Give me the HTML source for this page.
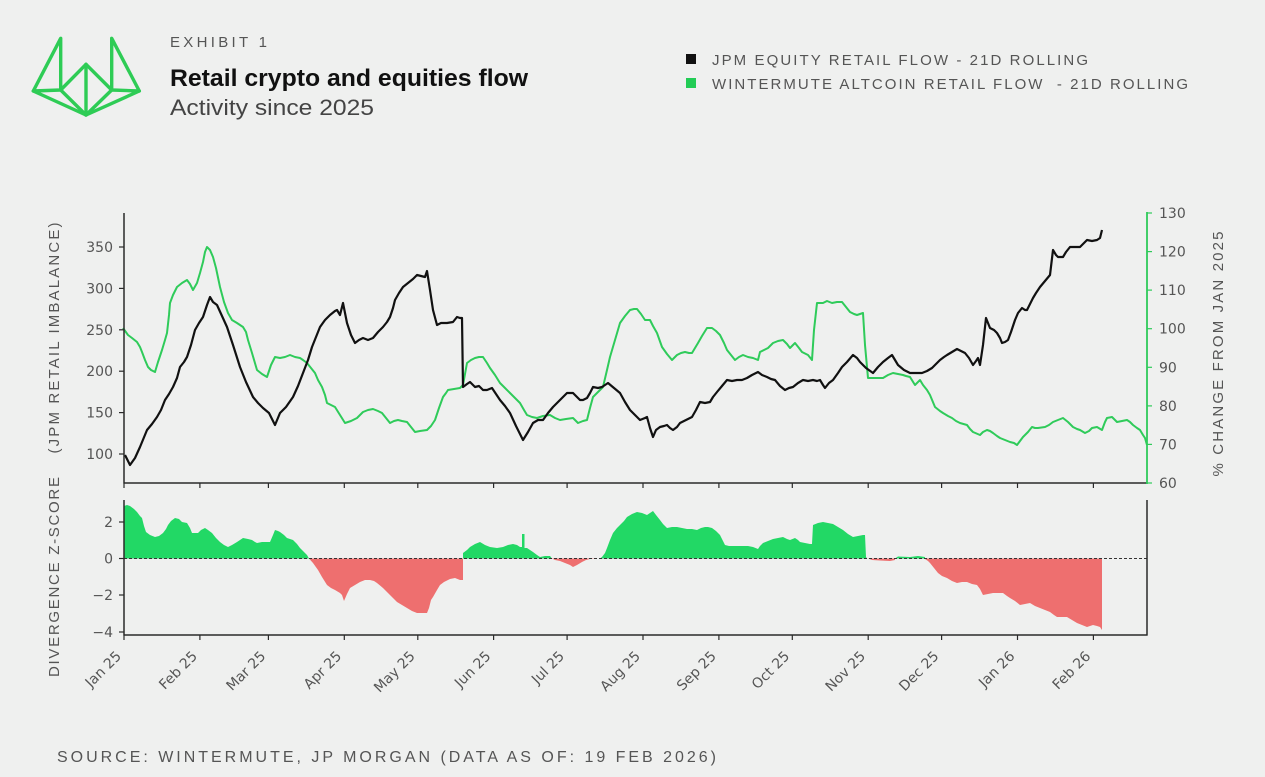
<!DOCTYPE html>
<html>
<head>
<meta charset="utf-8">
<style>
  html,body{margin:0;padding:0;background:#eff0ef;}
  svg{display:block;}
  .tick{font-family:"DejaVu Sans","Liberation Sans",sans-serif;font-size:14px;fill:#555;}
  .cap{font-family:"Liberation Sans",sans-serif;fill:#555;}
</style>
</head>
<body>
<svg width="1265" height="777" viewBox="0 0 1265 777" xmlns="http://www.w3.org/2000/svg">
  <rect x="0" y="0" width="1265" height="777" fill="#eff0ef"/>

  <!-- Logo -->
  <g fill="none" stroke="#2ecc55" stroke-width="3.4" stroke-linejoin="round" stroke-linecap="round">
    <polygon points="60.7,38.3 33.3,91 60.7,90"/>
    <polygon points="111.7,38.3 139.3,91 111.7,90"/>
    <polyline points="33.3,91 86,115 139.3,91"/>
    <polygon points="86,64.3 60.7,90 86,115 111.7,90"/>
    <line x1="86" y1="64.3" x2="86" y2="115"/>
  </g>

  <!-- Header text -->
  <text x="170" y="47" class="cap" font-size="15" textLength="97" lengthAdjust="spacing" fill="#555">EXHIBIT 1</text>
  <text x="170" y="86" font-family="Liberation Sans, sans-serif" font-size="24" font-weight="bold" fill="#111" textLength="358" lengthAdjust="spacingAndGlyphs">Retail crypto and equities flow</text>
  <text x="170" y="115" font-family="Liberation Sans, sans-serif" font-size="22" fill="#444" textLength="204" lengthAdjust="spacingAndGlyphs">Activity since 2025</text>

  <!-- Legend -->
  <rect x="686" y="54" width="10" height="10" fill="#111"/>
  <text x="712" y="65" class="cap" font-size="15" fill="#3c3c3c" textLength="376" lengthAdjust="spacing">JPM EQUITY RETAIL FLOW - 21D ROLLING</text>
  <rect x="686" y="78" width="10" height="10" fill="#22cc55"/>
  <text x="712" y="89" class="cap" font-size="15" fill="#3c3c3c" textLength="476" lengthAdjust="spacing" style="white-space:pre">WINTERMUTE ALTCOIN RETAIL FLOW  - 21D ROLLING</text>

  <!-- ===== Top chart ===== -->
  <polyline fill="none" stroke="#2fcb5a" stroke-width="2" stroke-linejoin="round" points="123,328 128,335 132,338 137,342 140,347 142,352 145,360 148,367 151,370 155,372 158,362 162,350 165,340 167,333 169,315 170,303 173,295 177,287 182,283 187,280 190,284 193,290 197,283 200,273 203,262 205,252 207,247 210,250 213,257 216,268 220,287 224,302 228,313 232,320 237,323 240,325 243,327 246,332 248,340 252,353 257,370 262,374 267,377 271,365 275,357 280,358 285,357 290,355 295,357 300,358 303,360 307,363 311,368 315,373 318,380 322,387 325,395 327,403 331,405 335,407 340,415 345,423 351,421 357,418 360,415 363,412 368,410 373,409 378,411 382,413 386,418 390,423 394,421 398,420 402,421 407,422 411,427 415,432 420,431 427,430 431,426 435,420 439,408 443,397 446,393 448,390 454,389 460,388 463,385 467,363 471,360 475,358 479,357 483,357 487,363 490,368 495,375 500,383 505,388 510,393 515,398 520,403 524,410 527,415 532,417 537,418 543,416 550,415 555,418 560,420 566,419 573,418 578,423 583,421 587,420 590,408 593,397 598,392 603,387 607,370 610,357 615,340 620,323 625,316 630,310 634,309 637,309 641,314 645,320 650,320 653,326 657,333 662,347 667,354 672,360 677,355 681,353 685,352 689,353 692,353 695,348 698,343 702,336 707,328 712,328 716,331 720,335 724,343 727,350 731,355 735,360 739,357 743,355 748,357 753,358 758,360 760,352 764,350 768,348 773,343 778,341 783,340 787,344 790,348 795,343 799,348 802,352 808,355 812,360 814,330 817,303 823,303 827,301 832,303 837,302 842,302 846,307 850,312 854,314 857,315 863,313 865,345 868,378 875,378 883,378 888,375 893,373 898,374 903,375 906,376 910,377 915,385 920,380 923,385 927,390 930,395 935,407 940,411 943,413 948,416 952,418 956,421 960,423 967,425 970,429 973,432 980,435 983,432 987,430 990,431 993,433 997,436 1000,438 1005,440 1010,442 1014,443 1017,445 1020,441 1023,437 1028,432 1032,427 1035,428 1038,428 1045,427 1049,425 1053,422 1058,420 1063,418 1068,422 1073,427 1077,429 1080,430 1085,433 1089,431 1092,428 1097,427 1102,430 1105,422 1107,418 1112,417 1117,422 1122,421 1127,420 1130,422 1133,425 1137,428 1140,430 1143,435 1145,438 1147,445"/>
  <polyline fill="none" stroke="#111" stroke-width="2.2" stroke-linejoin="round" points="125,455 130,465 135,458 140,447 147,430 152,424 157,417 161,410 165,400 169,394 173,387 177,378 180,367 184,362 187,357 191,345 195,330 199,323 203,317 207,305 210,297 213,302 217,305 222,316 227,327 233,345 240,367 246,382 253,397 258,403 263,408 269,413 275,425 280,413 286,407 293,397 298,386 303,373 308,360 312,347 316,337 320,327 325,320 330,315 335,311 337,310 340,315 343,303 347,323 351,335 355,343 359,340 363,338 368,340 373,338 378,332 383,327 387,322 390,317 393,308 395,300 399,293 403,287 408,283 413,279 417,275 421,276 425,277 427,271 430,290 433,310 437,325 441,323 447,323 453,322 457,317 460,318 462,318 463,387 467,384 470,382 475,387 479,386 483,390 487,390 492,388 496,394 500,400 505,406 510,413 516,426 523,440 528,432 533,423 538,420 543,420 548,413 553,407 557,403 560,400 563,397 567,393 573,393 577,397 580,400 583,400 587,398 590,393 593,387 598,388 602,387 605,385 608,383 614,388 620,393 625,402 630,410 635,415 640,420 645,418 647,417 650,428 653,437 656,430 660,427 664,426 667,425 670,428 673,430 677,427 680,423 686,420 692,417 696,410 700,402 705,403 710,402 713,397 717,392 722,386 727,380 732,381 737,380 742,380 747,378 752,375 758,372 762,375 767,377 771,379 775,380 780,386 785,390 789,388 793,387 798,383 803,380 808,381 813,380 817,381 820,380 823,385 825,388 829,383 833,380 838,373 842,367 847,362 853,355 857,358 860,362 866,368 873,373 878,367 883,362 888,358 892,355 895,360 898,365 904,370 910,373 916,373 922,373 927,371 932,368 936,364 940,360 944,357 947,355 952,352 957,349 961,351 965,353 969,358 973,365 976,361 978,358 980,365 983,345 986,318 990,328 994,330 997,333 1000,338 1002,343 1005,342 1008,340 1011,332 1015,320 1018,313 1022,308 1025,310 1027,310 1030,304 1033,298 1036,293 1040,287 1045,281 1050,275 1053,250 1056,255 1058,257 1063,257 1066,252 1070,247 1075,247 1080,247 1084,243 1087,240 1092,241 1097,240 1100,238 1102,230"/>

  <line x1="124" y1="213" x2="124" y2="483.5" stroke="#2a2a2a" stroke-width="1.5"/>
  <line x1="123.5" y1="483" x2="1147" y2="483" stroke="#2a2a2a" stroke-width="1.5"/>
  <line x1="1147" y1="212" x2="1147" y2="484" stroke="#2fcb5a" stroke-width="1.8"/>

  <g stroke="#2a2a2a" stroke-width="1.2">
    <line x1="119" y1="247" x2="124" y2="247"/>
    <line x1="119" y1="288.4" x2="124" y2="288.4"/>
    <line x1="119" y1="329.8" x2="124" y2="329.8"/>
    <line x1="119" y1="371.2" x2="124" y2="371.2"/>
    <line x1="119" y1="412.6" x2="124" y2="412.6"/>
    <line x1="119" y1="454" x2="124" y2="454"/>
  </g>
  <g class="tick" text-anchor="end">
    <text x="113" y="252">350</text>
    <text x="113" y="293.4">300</text>
    <text x="113" y="334.8">250</text>
    <text x="113" y="376.2">200</text>
    <text x="113" y="417.6">150</text>
    <text x="113" y="459">100</text>
  </g>
  <g stroke="#2fcb5a" stroke-width="1.2">
    <line x1="1147" y1="213" x2="1152" y2="213"/>
    <line x1="1147" y1="251.6" x2="1152" y2="251.6"/>
    <line x1="1147" y1="290.1" x2="1152" y2="290.1"/>
    <line x1="1147" y1="328.7" x2="1152" y2="328.7"/>
    <line x1="1147" y1="367.3" x2="1152" y2="367.3"/>
    <line x1="1147" y1="405.9" x2="1152" y2="405.9"/>
    <line x1="1147" y1="444.4" x2="1152" y2="444.4"/>
    <line x1="1147" y1="483" x2="1152" y2="483"/>
  </g>
  <g class="tick">
    <text x="1159" y="218">130</text>
    <text x="1159" y="256.6">120</text>
    <text x="1159" y="295.1">110</text>
    <text x="1159" y="333.7">100</text>
    <text x="1159" y="372.3">90</text>
    <text x="1159" y="410.9">80</text>
    <text x="1159" y="449.4">70</text>
    <text x="1159" y="488">60</text>
  </g>
  <g stroke="#2a2a2a" stroke-width="1.2">
    <line x1="124" y1="483" x2="124" y2="488"/>
    <line x1="199.9" y1="483" x2="199.9" y2="488"/>
    <line x1="268.4" y1="483" x2="268.4" y2="488"/>
    <line x1="344.3" y1="483" x2="344.3" y2="488"/>
    <line x1="417.8" y1="483" x2="417.8" y2="488"/>
    <line x1="493.6" y1="483" x2="493.6" y2="488"/>
    <line x1="567.1" y1="483" x2="567.1" y2="488"/>
    <line x1="643" y1="483" x2="643" y2="488"/>
    <line x1="718.9" y1="483" x2="718.9" y2="488"/>
    <line x1="792.3" y1="483" x2="792.3" y2="488"/>
    <line x1="868.2" y1="483" x2="868.2" y2="488"/>
    <line x1="941.6" y1="483" x2="941.6" y2="488"/>
    <line x1="1017.5" y1="483" x2="1017.5" y2="488"/>
    <line x1="1093.4" y1="483" x2="1093.4" y2="488"/>
  </g>

  <!-- ===== Bottom chart ===== -->
  <g fill="#22d865">
    <polygon points="124,558.5 124,506 127,505 130,506 134,509 137,512 140,516 142,518 144,526 146,532 150,535 155,537 159,536 163,533 166,529 168,525 171,521 175,518 179,519 182,522 187,523 190,528 192,533 195,533 198,533 201,530 205,528 208,530 212,533 216,538 220,542 224,545 228,547 232,545 237,542 240,540 243,538 248,539 252,540 255,542 257,543 262,542 266,542 270,542 273,535 275,530 278,531 280,532 284,535 287,538 290,539 293,540 297,544 300,548 304,552 307,555 309,558.5"/>
    <polygon points="463,558.5 463,553 467,550 470,547 475,544 480,542 485,545 490,547 497,548 503,547 508,545 513,544 517,545 520,547 522,547 522,534 524.5,534 524.5,548 527,548 530,550 533,552 537,555 540,557 545,556 550,556 552,558.5"/>
    <polygon points="600,558.5 602,557 605,553 607,548 610,540 613,533 617,528 620,525 624,521 627,517 632,514 637,512 642,513 647,515 650,513 653,511 656,515 660,520 663,524 667,528 672,527 677,527 682,528 687,529 692,529 697,530 701,528 705,527 708,527 712,528 716,531 720,535 723,541 725,545 729,546 733,546 738,546 743,546 748,546 753,547 758,549 760,546 763,543 768,541 773,539 778,538 783,537 787,539 790,540 795,538 798,540 800,542 805,543 810,544 812,544 813,525 818,523 823,522 828,523 833,524 838,527 843,530 848,534 853,537 858,536 863,535 865,535 866,557 867,558.5"/>
    <polygon points="895,558.5 898,556.5 910,557 918,556 925,557 925,558.5"/>
  </g>
  <g fill="#ee6f6f">
    <polygon points="309,558.5 313,563 318,570 322,577 327,585 331,588 335,590 340,593 342,595 344,601 347,594 350,588 355,585 360,582 365,580 370,580 374,581 377,583 383,588 388,593 393,598 397,602 402,605 407,608 412,611 417,613 422,613 427,613 429,608 431,600 433,597 437,590 440,585 444,582 450,579 455,578 460,580 463,580 463,558.5"/>
    <polygon points="552,558.5 555,560 560,561 565,563 570,565 573,567 577,565 582,562 586,560 590,559 597,558.5"/>
    <polygon points="868,558.5 872,560 880,560.5 890,561 895,560 895,558.5"/>
    <polygon points="925,558.5 925,559 928,561 930,563 934,568 938,573 942,576 947,578 952,581 957,583 962,582 967,582 972,584 977,585 980,589 983,595 988,594 993,593 998,593 1003,593 1007,596 1010,598 1015,601 1020,605 1025,604 1030,603 1035,606 1040,608 1045,610 1050,612 1054,615 1057,617 1062,617 1067,617 1072,620 1077,623 1082,625 1087,627 1090,626 1093,625 1097,626 1100,627 1102,630 1102,558.5"/>
  </g>
  <line x1="124" y1="558.5" x2="1147" y2="558.5" stroke="#333" stroke-width="1" stroke-dasharray="3,2"/>

  <line x1="124" y1="500" x2="124" y2="635.5" stroke="#2a2a2a" stroke-width="1.5"/>
  <line x1="123.5" y1="635" x2="1147.5" y2="635" stroke="#2a2a2a" stroke-width="1.5"/>
  <line x1="1147" y1="500" x2="1147" y2="635.5" stroke="#2a2a2a" stroke-width="1.5"/>

  <g stroke="#2a2a2a" stroke-width="1.2">
    <line x1="119" y1="522" x2="124" y2="522"/>
    <line x1="119" y1="558.5" x2="124" y2="558.5"/>
    <line x1="119" y1="595" x2="124" y2="595"/>
    <line x1="119" y1="632" x2="124" y2="632"/>
  </g>
  <g class="tick" text-anchor="end">
    <text x="113" y="527">2</text>
    <text x="113" y="563.5">0</text>
    <text x="113" y="600">−2</text>
    <text x="113" y="637">−4</text>
  </g>
  <g stroke="#2a2a2a" stroke-width="1.2">
    <line x1="124" y1="635" x2="124" y2="640"/>
    <line x1="199.9" y1="635" x2="199.9" y2="640"/>
    <line x1="268.4" y1="635" x2="268.4" y2="640"/>
    <line x1="344.3" y1="635" x2="344.3" y2="640"/>
    <line x1="417.8" y1="635" x2="417.8" y2="640"/>
    <line x1="493.6" y1="635" x2="493.6" y2="640"/>
    <line x1="567.1" y1="635" x2="567.1" y2="640"/>
    <line x1="643" y1="635" x2="643" y2="640"/>
    <line x1="718.9" y1="635" x2="718.9" y2="640"/>
    <line x1="792.3" y1="635" x2="792.3" y2="640"/>
    <line x1="868.2" y1="635" x2="868.2" y2="640"/>
    <line x1="941.6" y1="635" x2="941.6" y2="640"/>
    <line x1="1017.5" y1="635" x2="1017.5" y2="640"/>
    <line x1="1093.4" y1="635" x2="1093.4" y2="640"/>
  </g>

  <g class="tick" text-anchor="end">
    <text x="122" y="657" transform="rotate(-45 122 657)">Jan 25</text>
    <text x="198" y="657" transform="rotate(-45 198 657)">Feb 25</text>
    <text x="266.4" y="657" transform="rotate(-45 266.4 657)">Mar 25</text>
    <text x="342.3" y="657" transform="rotate(-45 342.3 657)">Apr 25</text>
    <text x="415.8" y="657" transform="rotate(-45 415.8 657)">May 25</text>
    <text x="491.6" y="657" transform="rotate(-45 491.6 657)">Jun 25</text>
    <text x="565.1" y="657" transform="rotate(-45 565.1 657)">Jul 25</text>
    <text x="641" y="657" transform="rotate(-45 641 657)">Aug 25</text>
    <text x="716.9" y="657" transform="rotate(-45 716.9 657)">Sep 25</text>
    <text x="790.3" y="657" transform="rotate(-45 790.3 657)">Oct 25</text>
    <text x="866.2" y="657" transform="rotate(-45 866.2 657)">Nov 25</text>
    <text x="939.6" y="657" transform="rotate(-45 939.6 657)">Dec 25</text>
    <text x="1015.5" y="657" transform="rotate(-45 1015.5 657)">Jan 26</text>
    <text x="1091.4" y="657" transform="rotate(-45 1091.4 657)">Feb 26</text>
  </g>

  <text x="59" y="338" transform="rotate(-90 59 338)" text-anchor="middle" class="cap" font-size="15" textLength="231" lengthAdjust="spacing">(JPM RETAIL IMBALANCE)</text>
  <text x="59" y="577" transform="rotate(-90 59 577)" text-anchor="middle" class="cap" font-size="15" textLength="200" lengthAdjust="spacing">DIVERGENCE Z-SCORE</text>
  <text x="1223" y="354" transform="rotate(-90 1223 354)" text-anchor="middle" class="cap" font-size="15" textLength="245" lengthAdjust="spacing">% CHANGE FROM JAN 2025</text>

  <text x="57" y="762" class="cap" font-size="16" fill="#666" textLength="659" lengthAdjust="spacing">SOURCE: WINTERMUTE, JP MORGAN (DATA AS OF: 19 FEB 2026)</text>
</svg>
</body>
</html>
